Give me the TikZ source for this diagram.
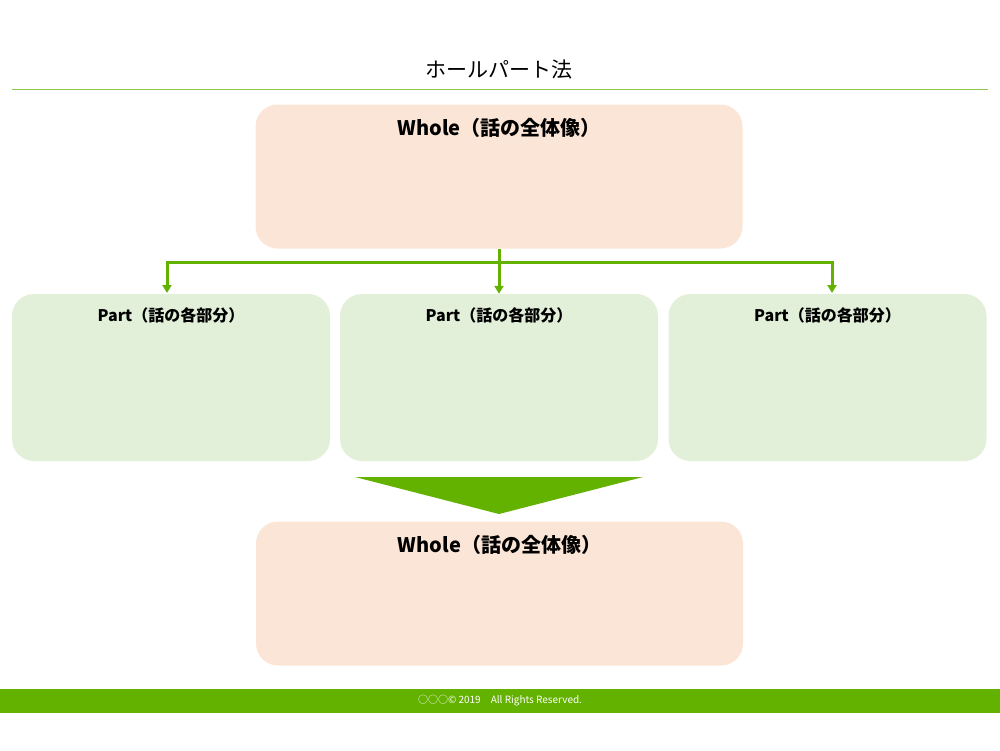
\documentclass[tikz,border=0pt]{standalone}
\usepackage{fontspec}
\setmainfont{Noto Sans CJK JP}
\newfontfamily\cjklight{Noto Sans CJK JP Light}
\usetikzlibrary{arrows.meta}
\definecolor{gr}{RGB}{100,178,0}
\definecolor{lgr}{RGB}{146,200,80}
\definecolor{peach}{RGB}{251,229,214}
\definecolor{mint}{RGB}{226,240,217}
\begin{document}
\begin{tikzpicture}[x=1pt,y=-1pt,
  whole/.style={draw=none,fill=peach,rounded corners=22pt,minimum width=487pt,minimum height=144pt,inner sep=0pt},
  part/.style={draw=none,fill=mint,rounded corners=22pt,minimum width=318pt,minimum height=167pt,inner sep=0pt},
  lab/.style={font=\bfseries\fontsize{20}{24}\selectfont},
  plab/.style={font=\bfseries\fontsize{16}{20}\selectfont},
  conn/.style={gr,line width=3pt,-{Triangle[length=8pt,width=9pt]}}]
\useasboundingbox (0,0) rectangle (1000,750);
\node[font=\fontsize{21}{24}\selectfont] (title) at (499,70) {ホールパート法};
\draw[lgr,line width=1pt] (12,89) -- (988,89);
\node[whole] (w1) at (499,176.5) {};
\node[lab] (w1t) at (499,128) {Whole（話の全体像）};
\node[part] (p1) at (171,377.5) {};
\node[part] (p2) at (499,377.5) {};
\node[part] (p3) at (827.5,377.5) {};
\node[plab] (p1t) at (171,315) {Part（話の各部分）};
\node[plab] (p2t) at (499,315) {Part（話の各部分）};
\node[plab] (p3t) at (827.5,315) {Part（話の各部分）};
\coordinate (j) at (499,262);
\coordinate (a1) at (167,293);
\coordinate (a3) at (832,293);
\draw[conn] (w1.south) -- (p2.north);
\draw[conn] (j) -| (a1);
\draw[conn] (j) -| (a3);
\fill[gr] (355,477) -- (643,477) -- (499,514) -- cycle;
\node[whole] (w2) at (499.5,593.5) {};
\node[lab] (w2t) at (499.5,545) {Whole（話の全体像）};
\fill[gr] (0,689) rectangle (1000,713);
\node[white,font=\fontsize{10}{12}\selectfont] (foot) at (500,701) {○○○© 2019　All Rights Reserved.};
\end{tikzpicture}
\end{document}
